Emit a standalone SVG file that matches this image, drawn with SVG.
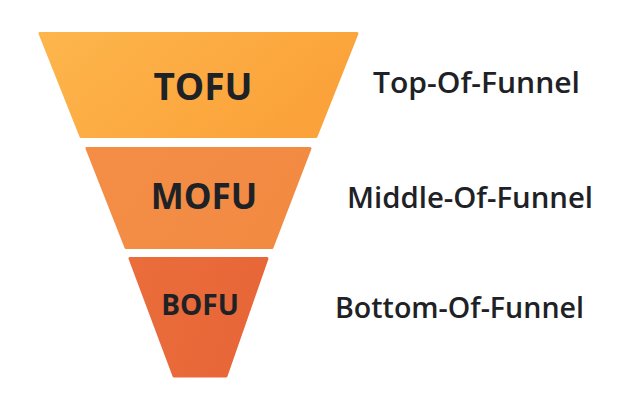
<svg xmlns="http://www.w3.org/2000/svg" width="635" height="406" viewBox="0 0 635 406">
<defs>
<linearGradient id="gTop" x1="0" y1="0" x2="1" y2="0.4">
<stop offset="0" stop-color="#FDB64C"/>
<stop offset="1" stop-color="#FBA23A"/>
</linearGradient>
<linearGradient id="gMid" x1="0" y1="0" x2="1" y2="0.3">
<stop offset="0" stop-color="#F48E47"/>
<stop offset="1" stop-color="#F28A42"/>
</linearGradient>
<linearGradient id="gBot" x1="0" y1="0" x2="1" y2="0.3">
<stop offset="0" stop-color="#EA6D3B"/>
<stop offset="1" stop-color="#E86638"/>
</linearGradient>
</defs>
<style>
.stage{stroke-linejoin:round;stroke-width:3}
.in{font-family:"Open Sans","Noto Sans","Liberation Sans",sans-serif;font-weight:700;fill:#1E2226;text-anchor:middle}
.lbl{font-family:"Open Sans","Noto Sans","Liberation Sans",sans-serif;font-weight:600;fill:#1E2226;font-size:28px}
</style>
<rect width="635" height="406" fill="#FFFFFF"/>
<g id="tofu">
<polygon class="stage" points="40,33.5 357,33.5 316,136.5 81,136.5" fill="url(#gTop)" stroke="url(#gTop)"/>
<text class="in" x="203" y="100" font-size="37">TOFU</text>
</g>
<g id="mofu">
<polygon class="stage" points="87,148.5 310,148.5 272,247.5 126,247.5" fill="url(#gMid)" stroke="url(#gMid)"/>
<text class="in" x="204" y="209" font-size="35">MOFU</text>
</g>
<g id="bofu">
<polygon class="stage" points="130,258.5 267,258.5 226,376 174,376" fill="url(#gBot)" stroke="url(#gBot)"/>
<text class="in" x="200" y="315" font-size="28">BOFU</text>
</g>
<g id="labels">
<text class="lbl" x="373" y="93" textLength="207" lengthAdjust="spacingAndGlyphs">Top-Of-Funnel</text>
<text class="lbl" x="347" y="208" textLength="246" lengthAdjust="spacingAndGlyphs">Middle-Of-Funnel</text>
<text class="lbl" x="335" y="318" textLength="249" lengthAdjust="spacingAndGlyphs">Bottom-Of-Funnel</text>
</g>
<g id="connectors"></g>
</svg>
